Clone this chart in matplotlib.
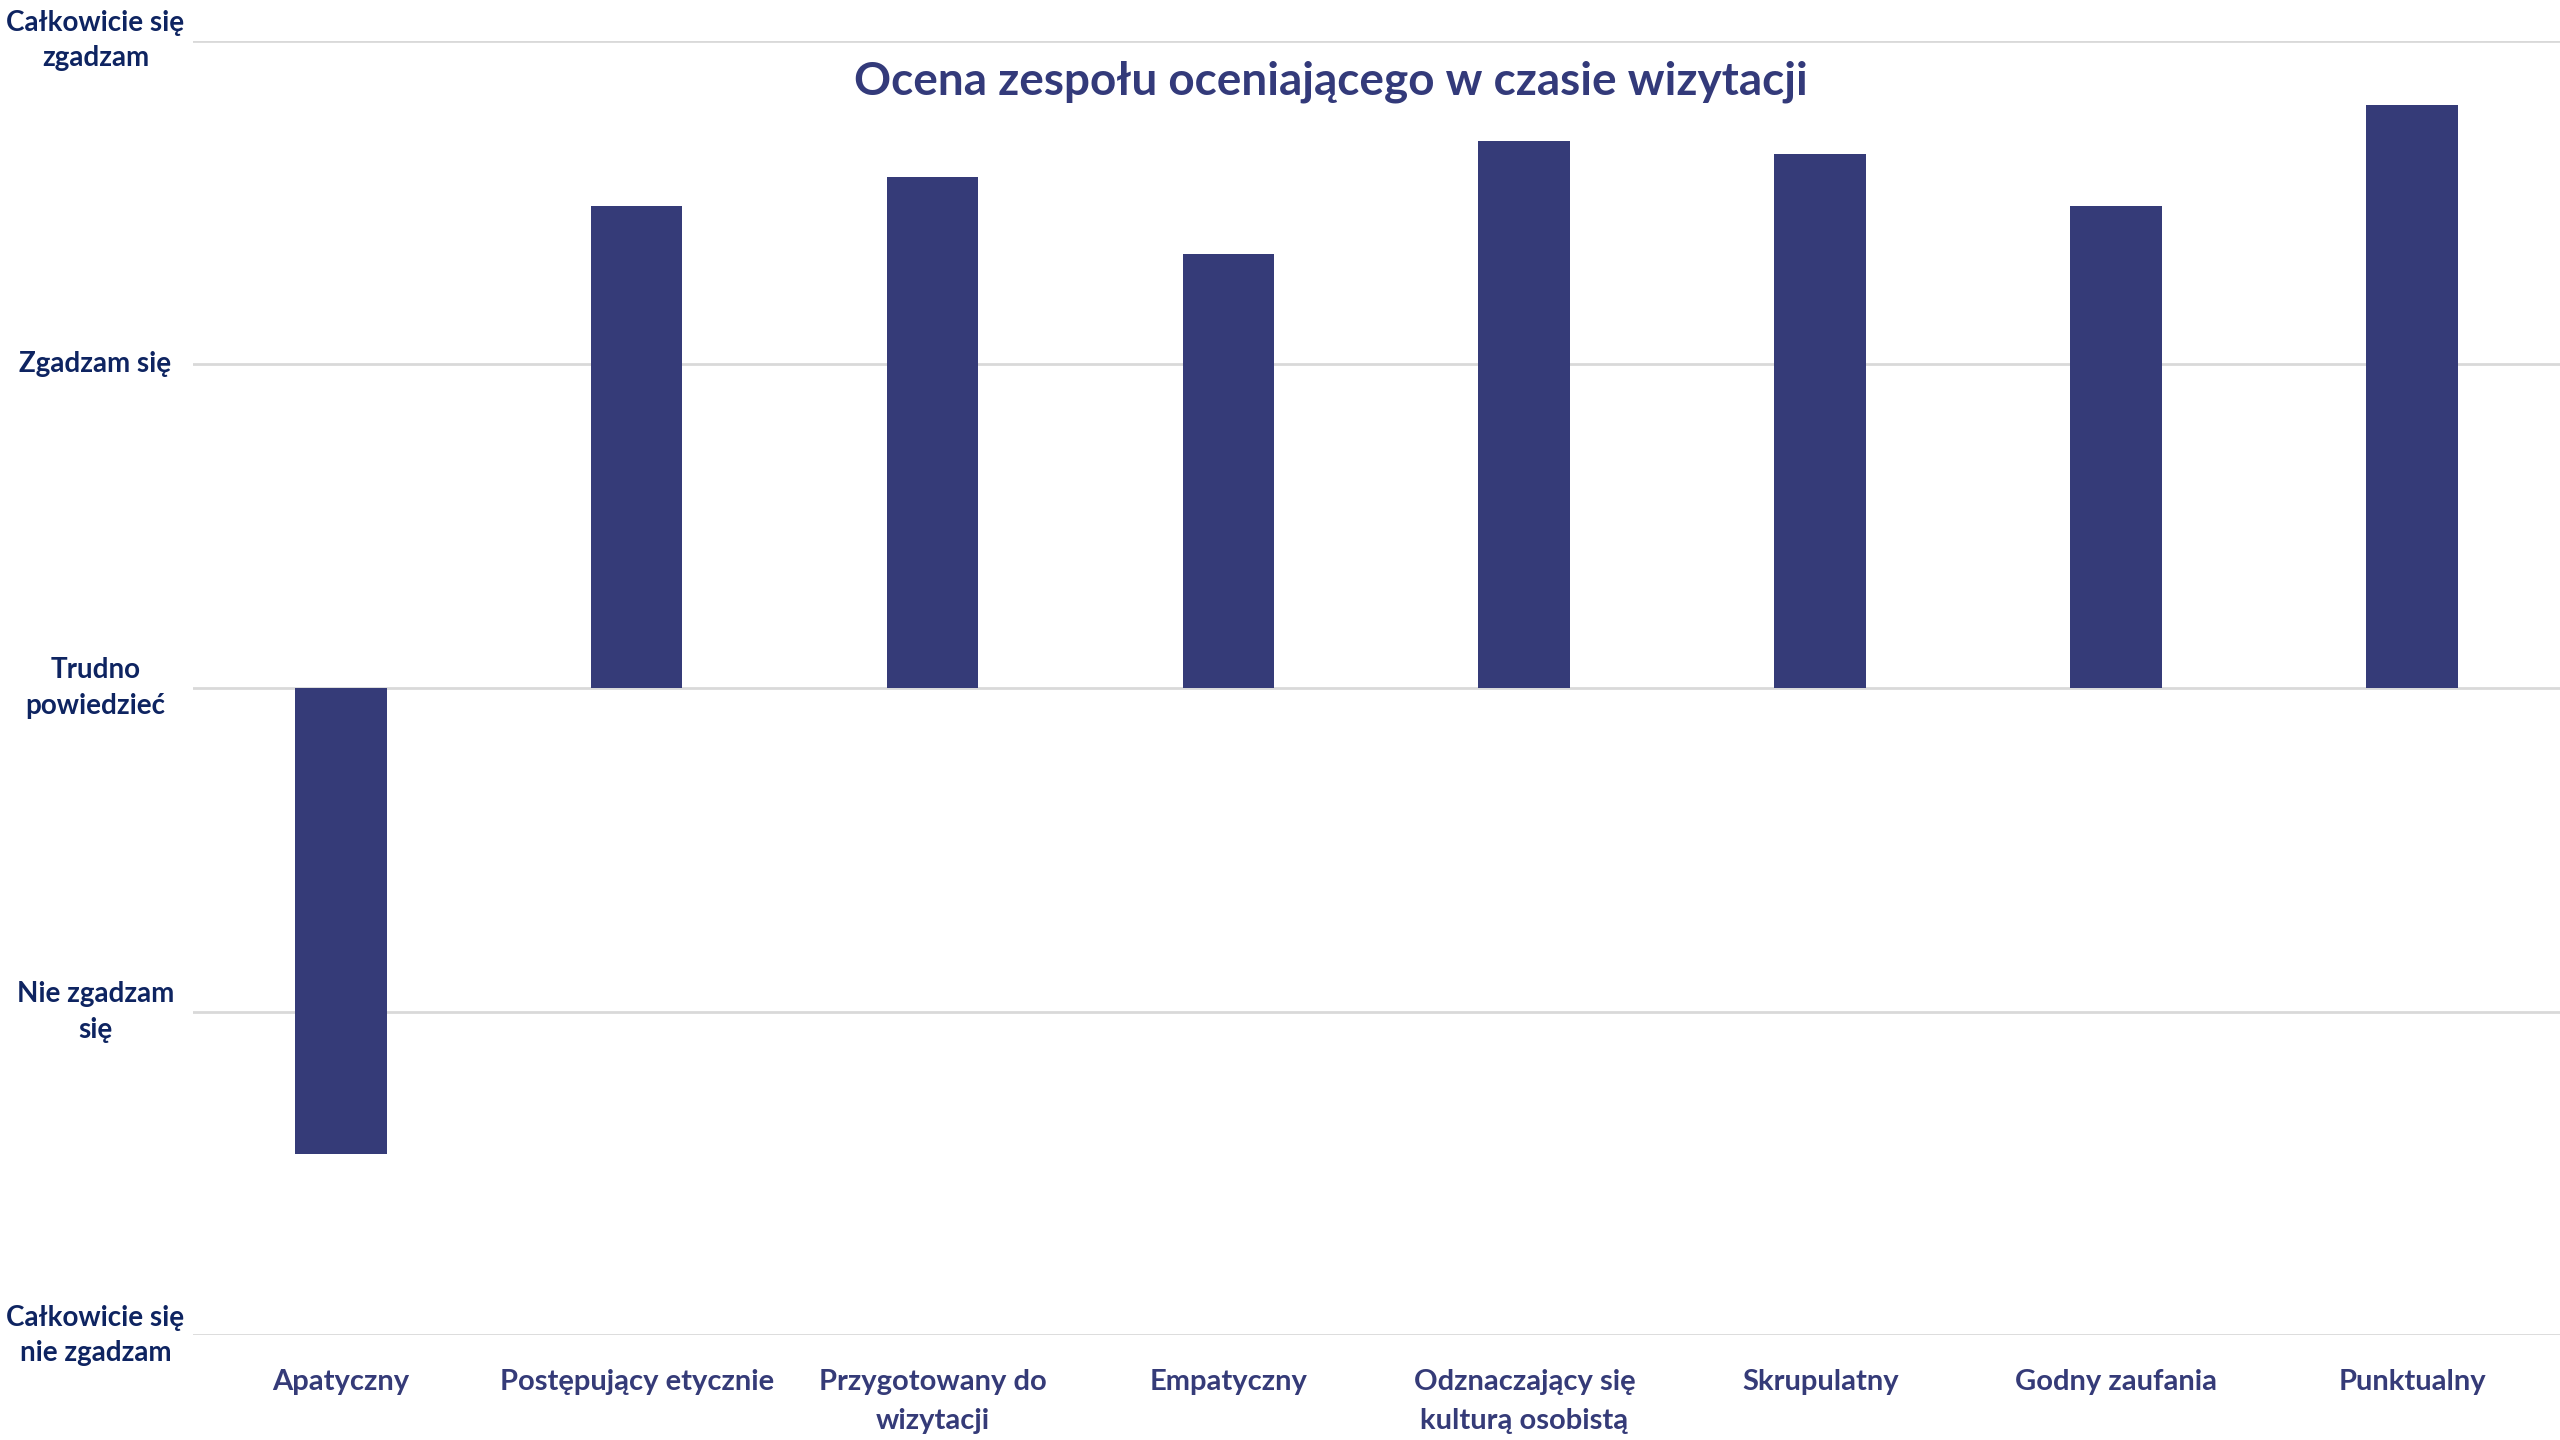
import numpy as np
import matplotlib.pyplot as plt

categories = ['Apatyczny', 'Postępujący etycznie', 'Przygotowany do\nwizytacji', 'Empatyczny',
              'Odznaczający się\nkulturą osobistą', 'Skrupulatny', 'Godny zaufania', 'Punktualny']
values = [1.56, 4.49, 4.58, 4.34, 4.69, 4.65, 4.49, 4.80]
scale_ticks = [1, 2, 3, 4, 5]
scale_labels = ['Całkowicie się\nnie zgadzam', 'Nie zgadzam\nsię', 'Trudno\npowiedzieć',
                'Zgadzam się', 'Całkowicie się\nzgadzam']
baseline = 3

plt.rcParams['font.family'] = ['Lato', 'DejaVu Sans']

fig = plt.figure(figsize=(25.6, 14.4), dpi=100)
ax = fig.add_axes([0.0753, 0.0726, 0.9247, 0.8991])

x = np.arange(len(categories))
heights = [v - baseline for v in values]
ax.bar(x, heights, bottom=baseline, width=0.31, color='#353B78', zorder=3)

ax.set_xlim(-0.5, len(categories) - 0.5)
ax.set_ylim(1, 5)
ax.set_yticks(scale_ticks)
ax.set_yticklabels(scale_labels, fontsize=20, fontweight='bold', color='#0E2461',
                   ha='center', va='center', linespacing=1.45)
ax.tick_params(axis='y', length=0, pad=70)
for lbl in ax.get_yticklabels():
    lbl.set_y(lbl.get_position()[1])
ax.set_xticks(x)
ax.set_xticklabels(categories, fontsize=21, fontweight='bold', color='#353B78',
                   va='top', linespacing=1.65)
ax.tick_params(axis='x', length=0, pad=24)

ax.grid(axis='y', color='#D9D9D9', linewidth=2, zorder=0)
for s in ax.spines.values():
    s.set_visible(False)

fig.text(0.52, 0.943, 'Ocena zespołu oceniającego w czasie wizytacji', ha='center', va='center',
         fontsize=33, fontweight='bold', color='#333A7A')

fig.savefig('out.png', dpi=100)
